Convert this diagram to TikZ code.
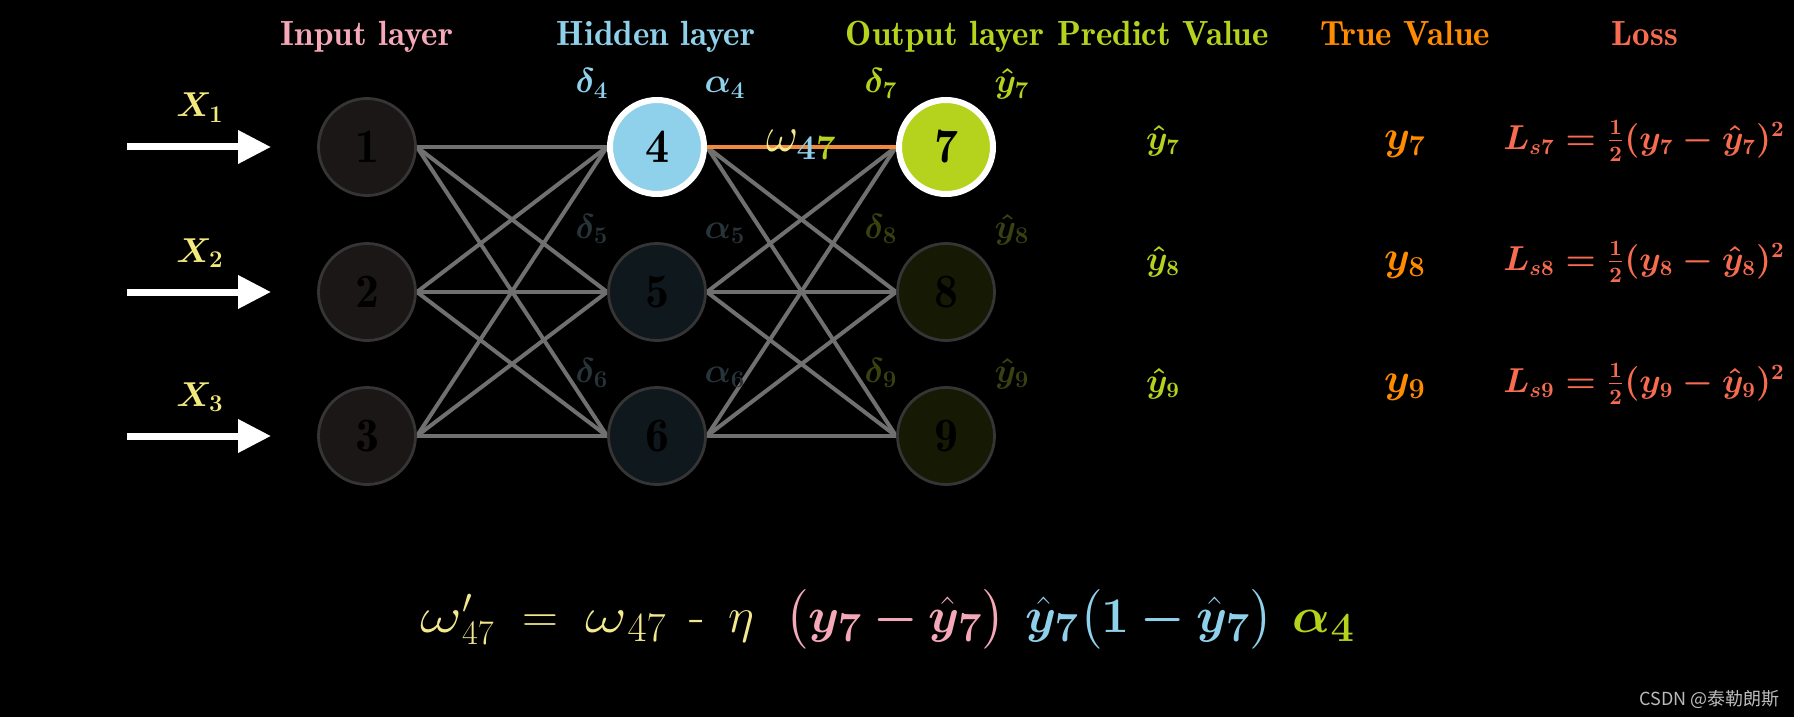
\documentclass[tikz,border=0pt]{standalone}
\usepackage{amsmath,bm}
\usepackage{fontspec}
\newfontfamily\cjk{Noto Sans CJK SC}
\newfontfamily\demi{lmromandemi10-regular.otf}
\usetikzlibrary{arrows.meta,backgrounds}
\definecolor{inpink}{HTML}{F5A9B8}
\definecolor{hidblue}{HTML}{8FD0EB}
\definecolor{outgreen}{HTML}{B5D31C}
\definecolor{trueorange}{HTML}{FF8C00}
\definecolor{losscol}{HTML}{F76C50}
\definecolor{xyellow}{HTML}{F2EA7E}
\definecolor{wyellow}{HTML}{F3E98C}
\definecolor{edgegray}{HTML}{707070}
\definecolor{wedge}{HTML}{F08A3C}
\definecolor{dimin}{HTML}{1B1717}
\definecolor{dimhid}{HTML}{0F181C}
\definecolor{dimout}{HTML}{161A04}
\definecolor{dimrim}{HTML}{363434}
\definecolor{dimblue}{HTML}{27343A}
\definecolor{dimgreen}{HTML}{394110}
\definecolor{csdngray}{HTML}{BBBBBB}
\newcommand\titlesize{\demi\fontsize{17.5}{20}\selectfont}
\newcommand\labsize{\fontsize{17}{20}\selectfont\boldmath}
\newcommand\valsize{\fontsize{16}{20}\selectfont\boldmath}
\newcommand\gap{\hspace{0.45em}}
\newcommand\wom{\mathord{\scalebox{1.3}[1]{$\omega$}}}
\begin{document}
\begin{tikzpicture}[x=0.5pt,y=-0.5pt,
    neuron/.style={circle,minimum size=48.5pt,inner sep=0pt,line width=1.4pt,draw=dimrim,text=black,font=\demi\fontsize{24}{30}\selectfont},
    lit/.style={neuron,minimum size=47pt,draw=white,line width=3pt},
    ttl/.style={anchor=base,font=\titlesize},
    lab/.style={anchor=base,font=\labsize},
    val/.style={anchor=base,font=\valsize},
    xin/.style={-{Triangle[length=16.5pt,width=16pt]},white,line width=3.5pt},
    link/.style={edgegray,line width=2pt}]
\useasboundingbox (0,0) rectangle (1794,717);
% titles
\node[ttl,inpink] (tin) at (367,46) {Input layer};
\node[ttl,hidblue] (thid) at (656,46) {Hidden layer};
\node[ttl,outgreen] (tout) at (945,46) {Output layer};
\node[ttl,outgreen] (tpred) at (1163,46) {Predict Value};
\node[ttl,trueorange] (ttrue) at (1405,46) {True Value};
\node[ttl,losscol] (tloss) at (1645,46) {Loss};
% neurons
\node[neuron,fill=dimin] (n1) at (367,147) {1};
\node[neuron,fill=dimin] (n2) at (367,292) {2};
\node[neuron,fill=dimin] (n3) at (367,436) {3};
\node[lit,fill=hidblue] (n4) at (657,147) {4};
\node[neuron,fill=dimhid] (n5) at (657,292) {5};
\node[neuron,fill=dimhid] (n6) at (657,436) {6};
\node[lit,fill=outgreen] (n7) at (946,147) {7};
\node[neuron,fill=dimout] (n8) at (946,292) {8};
\node[neuron,fill=dimout] (n9) at (946,436) {9};
% inputs
\coordinate (s1) at (127,147); \coordinate (e1) at (271,147);
\coordinate (s2) at (127,292); \coordinate (e2) at (271,292);
\coordinate (s3) at (127,436); \coordinate (e3) at (271,436);
\draw[xin] (s1) -- (e1);
\draw[xin] (s2) -- (e2);
\draw[xin] (s3) -- (e3);
\node[val,xyellow,font=\fontsize{17}{20}\selectfont\boldmath] (x1) at (200,117) {$X_1$};
\node[val,xyellow,font=\fontsize{17}{20}\selectfont\boldmath] (x2) at (200,262) {$X_2$};
\node[val,xyellow,font=\fontsize{17}{20}\selectfont\boldmath] (x3) at (200,406) {$X_3$};
% labels over neurons
\node[lab,hidblue] (d4) at (592,93) {$\delta_4$};
\node[lab,hidblue] (a4) at (725,93) {$\alpha_4$};
\node[lab,dimblue] (d5) at (592,238) {$\delta_5$};
\node[lab,dimblue] (a5) at (725,238) {$\alpha_5$};
\node[lab,dimblue] (d6) at (592,382) {$\delta_6$};
\node[lab,dimblue] (a6) at (725,382) {$\alpha_6$};
\node[lab,outgreen] (d7) at (881,93) {$\delta_7$};
\node[lab,outgreen] (h7) at (1012,93) {$\hat{y}_7$};
\node[lab,dimgreen] (d8) at (881,238) {$\delta_8$};
\node[lab,dimgreen] (h8) at (1012,238) {$\hat{y}_8$};
\node[lab,dimgreen] (d9) at (881,382) {$\delta_9$};
\node[lab,dimgreen] (h9) at (1012,382) {$\hat{y}_9$};
% table
\node[val,outgreen] (p7) at (1163,149) {$\hat{y}_7$};
\node[val,outgreen] (p8) at (1163,270) {$\hat{y}_8$};
\node[val,outgreen] (p9) at (1163,392) {$\hat{y}_9$};
\node[val,trueorange,font=\fontsize{20.5}{24}\selectfont\boldmath] (y7) at (1405,149) {$y_7$};
\node[val,trueorange,font=\fontsize{20.5}{24}\selectfont\boldmath] (y8) at (1405,270) {$y_8$};
\node[val,trueorange,font=\fontsize{20.5}{24}\selectfont\boldmath] (y9) at (1405,392) {$y_9$};
\node[val,losscol] (l7) at (1644,149) {$L_{s7}=\tfrac{1}{2}(y_7-\hat{y}_7)^2$};
\node[val,losscol] (l8) at (1644,270) {$L_{s8}=\tfrac{1}{2}(y_8-\hat{y}_8)^2$};
\node[val,losscol] (l9) at (1644,392) {$L_{s9}=\tfrac{1}{2}(y_9-\hat{y}_9)^2$};
% update rule
\node[anchor=base west,inner sep=0pt,wyellow,font=\fontsize{25.5}{30}\selectfont] (rule) at (420,632)
  {$\wom'_{47}\;=\;\wom_{\mbox{\fontsize{21.5}{24}\selectfont$47$}}\gap\text{-}\gap\eta$};
\node[anchor=base west,inner sep=0pt,xshift=15.5pt,font=\fontsize{28.5}{34}\selectfont] (grad) at (rule.base east)
  {$\color{inpink}\bigl(\bm{y_7-\hat{y}_7}\bigr)\hspace{0.35em}
   \color{hidblue}\bm{\hat{y}_7}\bigl(\bm{1-\hat{y}_7}\bigr)\hspace{0.35em}
   \color{outgreen}\bm{\alpha_4}$};
\node[anchor=base east,csdngray,font=\cjk\fontsize{9}{10}\selectfont] (csdn) at (1787,705) {CSDN @泰勒朗斯};
\begin{scope}[on background layer]
\fill[black] (0,0) rectangle (1794,717);
\foreach \a in {1,2,3} \foreach \b in {4,5,6} \draw[link] (n\a.east) -- (n\b.west);
\foreach \a in {4,5,6} \foreach \b in {7,8,9} \draw[link] (n\a.east) -- (n\b.west);
\draw[wedge,line width=1.7pt] (n4.east) -- (n7.west)
  node[midway,anchor=base,yshift=-2.5pt,font=\fontsize{24}{28}\selectfont] (w47)
  {$\color{wyellow}\omega_{\color{hidblue}\bm{4}\color{outgreen}\bm{7}}$};
\end{scope}
\end{tikzpicture}
\end{document}
